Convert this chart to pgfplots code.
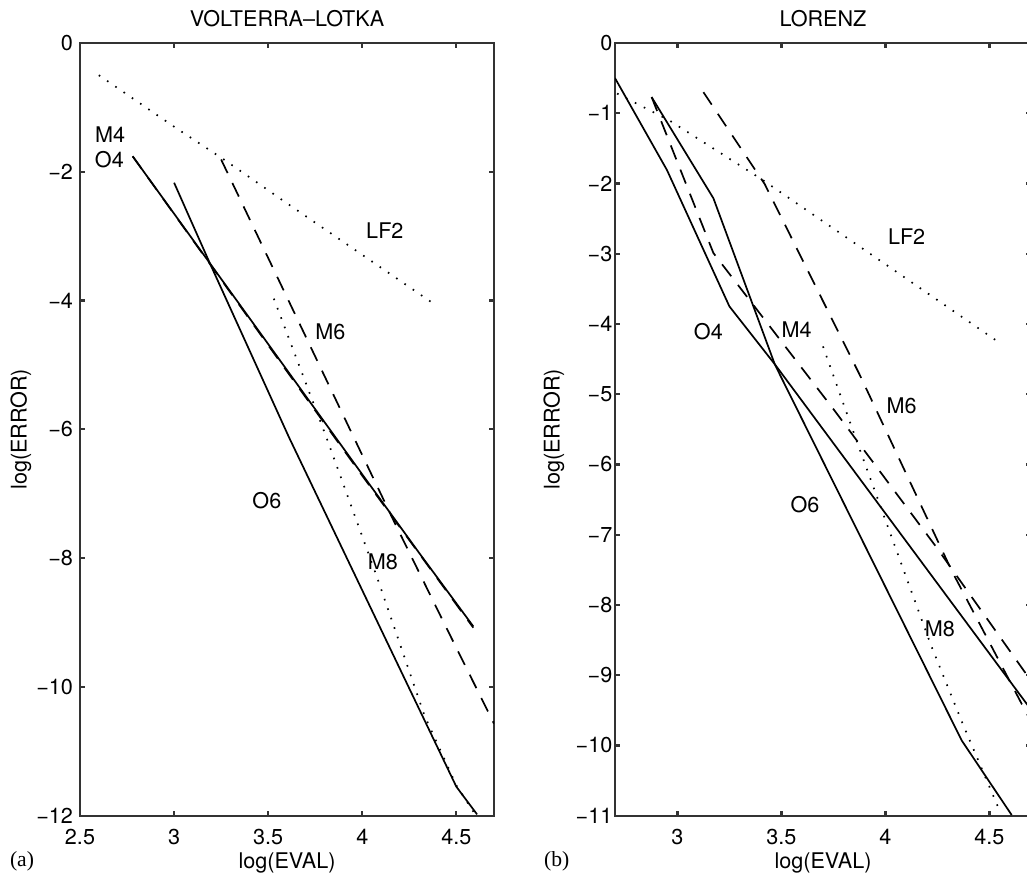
\documentclass[border=0pt]{standalone}
\usepackage{fontspec}
\setmainfont{TeX Gyre Heros}
\newfontfamily\serif{Liberation Serif}
\usepackage{pgfplots}
\pgfplotsset{compat=1.18}

% 1 px of the reference = 0.5pt
\tikzset{
  solidline/.style={black, solid, line width=0.85pt},
  dotline/.style={black, line width=0.85pt, dash pattern=on 0.8pt off 4.2pt},
  dashline/.style={black, line width=0.85pt, dash pattern=on 7.5pt off 5.5pt},
  lbl/.style={inner sep=0pt, anchor=center},
}
\pgfplotsset{
  panel/.style={
    scale only axis,
    height=386.35pt,
    ymax=0,
    clip mode=individual,
    no markers,
    font=\fontsize{10.8}{13}\selectfont,
    axis line style={line width=1.1pt, black!80},
    tick style={line width=1.1pt, black!80},
    tick align=inside,
    tick pos=both,
    major tick length=2.5pt,
    xticklabel shift=3pt,
  },
}

\begin{document}
\begin{tikzpicture}
% (a) VOLTERRA-LOTKA
\begin{axis}[panel,
  at={(0pt,0pt)}, anchor=south west,
  width=207pt,
  xmin=2.5, xmax=4.7, ymin=-12,
  xtick={2.5,3,3.5,4,4.5}, xticklabels={2.5,3,3.5,4,4.5},
  ytick={-12,-10,-8,-6,-4,-2,0},
  yticklabels={−12,−10,−8,−6,−4,−2,0},
  ylabel={log(ERROR)},
  every axis y label/.style={at={(axis description cs:-0.1425,0.5)}, rotate=90, anchor=center},
  ]
  % LF2
  \addplot[dotline] coordinates {
    (2.6,-0.5) (3.0,-1.3) (3.27,-1.82) (3.6,-2.49) (4.0,-3.29) (4.39,-4.07)
  };
  % O4
  \addplot[solidline] coordinates {
    (2.78,-1.76) (3.19,-3.42) (3.6,-5.08) (4.0,-6.70) (4.3,-7.91) (4.59,-9.06)
  };
  % M4
  \addplot[dashline] coordinates {
    (2.78,-1.76) (3.19,-3.43) (3.6,-5.10) (4.0,-6.72) (4.3,-7.92) (4.59,-9.08)
  };
  % O6
  \addplot[solidline] coordinates {
    (3.0,-2.17) (3.19,-3.42) (3.61,-6.12) (4.0,-8.50) (4.50,-11.55) (4.61,-11.98)
  };
  % M8
  \addplot[dotline] coordinates {
    (3.53,-3.97) (3.81,-6.13) (4.08,-8.31) (4.33,-10.44) (4.50,-11.53) (4.60,-11.98)
  };
  % M6
  \addplot[dashline] coordinates {
    (3.25,-1.81) (3.6,-3.95) (3.954,-6.12) (4.167,-7.42) (4.45,-9.1) (4.7,-10.57)
  };
  \node[lbl] at (axis cs:2.66,-1.43) {M4};
  \node[lbl] at (axis cs:2.656,-1.81) {O4};
  \node[lbl] at (axis cs:4.12,-2.91) {LF2};
  \node[lbl] at (axis cs:3.83,-4.49) {M6};
  \node[lbl] at (axis cs:3.493,-7.10) {O6};
  \node[lbl] at (axis cs:4.11,-8.05) {M8};
  \node[lbl, yshift=12.35pt] at (rel axis cs:0.5,1) {VOLTERRA–LOTKA};
  \node[inner sep=0pt, anchor=base, yshift=-26.15pt] at (rel axis cs:0.5,0) {log(EVAL)};
  \node[lbl, font=\serif\fontsize{10.8}{13}\selectfont, xshift=-29pt, yshift=-22.7pt]
    at (rel axis cs:0,0) {(a)};
\end{axis}

% (b) LORENZ
\begin{axis}[panel,
  at={(267.5pt,0pt)}, anchor=south west,
  width=208pt,
  xmin=2.7, xmax=4.7, ymin=-11,
  xtick={3,3.5,4,4.5}, xticklabels={3,3.5,4,4.5},
  ytick={-11,-10,-9,-8,-7,-6,-5,-4,-3,-2,-1,0},
  yticklabels={−11,−10,−9,−8,−7,−6,−5,−4,−3,−2,−1,0},
  yticklabel style={xshift=2.2pt},
  ylabel={log(ERROR)},
  every axis y label/.style={at={(axis description cs:-0.1466,0.5)}, rotate=90, anchor=center},
  ]
  % LF2
  \addplot[dotline] coordinates {
    (2.71,-0.72) (2.96,-1.10) (3.41,-1.95) (4.0,-3.15) (4.54,-4.25)
  };
  % O4
  \addplot[solidline] coordinates {
    (2.7,-0.50) (2.95,-1.81) (3.25,-3.75) (3.47,-4.58) (4.7,-9.49)
  };
  % O6
  \addplot[solidline] coordinates {
    (2.876,-0.77) (3.173,-2.21) (3.469,-4.58) (4.367,-9.93) (4.607,-10.99)
  };
  % M4
  \addplot[dashline] coordinates {
    (2.876,-0.77) (3.173,-2.99) (3.758,-5.243) (4.247,-7.185) (4.7,-9.08)
  };
  % M6
  \addplot[dashline] coordinates {
    (3.125,-0.70) (3.42,-2.01) (3.88,-4.745) (4.32,-7.52) (4.7,-9.66)
  };
  % M8
  \addplot[dotline] coordinates {
    (3.70,-4.32) (3.86,-5.65) (3.99,-6.71) (4.22,-8.58) (4.37,-9.68) (4.555,-10.97)
  };
  \node[lbl] at (axis cs:4.102,-2.754) {LF2};
  \node[lbl] at (axis cs:3.149,-4.105) {O4};
  \node[lbl] at (axis cs:3.573,-4.081) {M4};
  \node[lbl] at (axis cs:4.078,-5.17) {M6};
  \node[lbl] at (axis cs:3.613,-6.565) {O6};
  \node[lbl] at (axis cs:4.262,-8.34) {M8};
  \node[lbl, yshift=12.35pt] at (axis cs:3.7,0) {LORENZ};
  \node[inner sep=0pt, anchor=base, yshift=-26.15pt] at (axis cs:3.7,-11) {log(EVAL)};
  \node[lbl, font=\serif\fontsize{10.8}{13}\selectfont, xshift=-29.15pt, yshift=-22.7pt]
    at (rel axis cs:0,0) {(b)};
\end{axis}

\pgfresetboundingbox
\useasboundingbox (-40pt,-31.15pt) rectangle (473.5pt,407.85pt);
\end{tikzpicture}
\end{document}
